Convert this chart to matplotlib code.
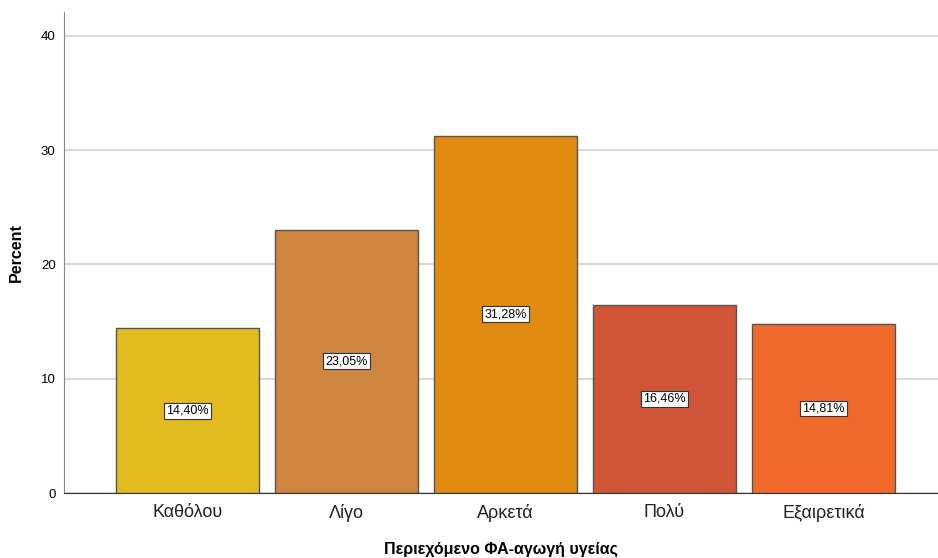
import matplotlib
matplotlib.use("Agg")
import matplotlib.pyplot as plt

categories = ["Καθόλου", "Λίγο", "Αρκετά", "Πολύ", "Εξαιρετικά"]
percents = [14.40, 23.05, 31.28, 16.46, 14.81]
colors = ["#E0BC1F", "#CD853F", "#E08A0F", "#D05436", "#F26A2B"]
yticks = [0, 10, 20, 30, 40]

plt.rcParams["font.family"] = ["Liberation Sans", "DejaVu Sans"]

fig = plt.figure(figsize=(9.38, 5.58), dpi=100)
ax = fig.add_axes([64 / 938, 65 / 558, 874 / 938, 481 / 558])

x = list(range(len(categories)))
ax.bar(x, percents, width=0.9, color=colors, edgecolor="#555555", linewidth=1.0, zorder=3)

for xi, v in zip(x, percents):
    label = f"{v:.2f}%".replace(".", ",")
    ax.text(xi, v / 2, label, ha="center", va="center", fontsize=9, zorder=4,
            bbox=dict(boxstyle="square,pad=0.15", facecolor="white", edgecolor="#333333", linewidth=0.8))

ax.set_xlim(-0.777, 4.72)
ax.set_ylim(0, 42.1)
ax.set_yticks(yticks)
ax.set_yticklabels([str(t) for t in yticks], fontsize=9.5)
ax.set_xticks(x)
ax.set_xticklabels(categories, fontsize=13, color="#222222")
ax.yaxis.grid(True, color="#d9d9d9", linewidth=1.5, zorder=0)
ax.tick_params(axis="both", length=0)
ax.tick_params(axis="x", pad=8)
ax.tick_params(axis="y", pad=6)

for side in ["top", "right"]:
    ax.spines[side].set_visible(False)
ax.spines["left"].set_color("#888888")
ax.spines["bottom"].set_color("#333333")

ax.set_ylabel("Percent", fontsize=11.5, fontweight="bold", labelpad=12)
ax.set_xlabel("Περιεχόμενο ΦΑ-αγωγή υγείας", fontsize=11.5, fontweight="bold", labelpad=14)

fig.savefig("out.png", dpi=100)
